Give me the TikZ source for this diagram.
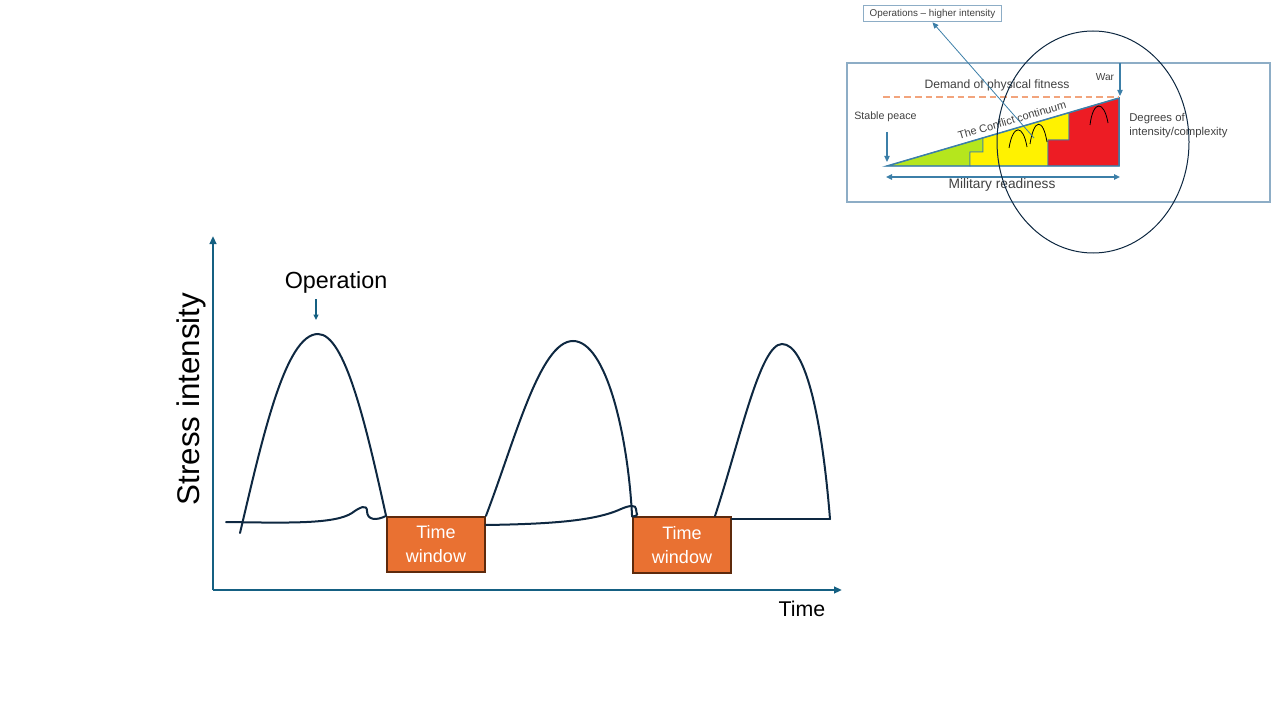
\documentclass[tikz,border=0pt]{standalone}
\usepackage{fontspec}
\setmainfont{Liberation Sans}
\usetikzlibrary{arrows.meta,calc}

\definecolor{axisblue}{HTML}{156082}
\definecolor{curvenavy}{HTML}{0E2841}
\definecolor{winorange}{HTML}{E97132}
\definecolor{winbrown}{HTML}{5E2A0C}
\definecolor{framegray}{HTML}{8DADC6}
\definecolor{dashorange}{HTML}{F2A47C}
\definecolor{zonegreen}{HTML}{B5E61D}
\definecolor{zoneyellow}{HTML}{FFF200}
\definecolor{zonered}{HTML}{ED1C24}
\definecolor{insetblue}{HTML}{3C7FA8}
\definecolor{insettextgray}{HTML}{404040}

\tikzset{
  axisline/.style={-{Triangle[length=6pt,width=5pt]}, axisblue, line width=1.6pt},
  stresscurve/.style={curvenavy, line width=1.5pt, line cap=round},
  window/.style={draw=winbrown, fill=winorange, line width=1.4pt, text=white,
    minimum width=73.5pt, minimum height=41.5pt, align=center,
    font=\fontsize{13.5}{18}\selectfont},
  insettext/.style={text=insettextgray, inner sep=0pt},
  insetarrow/.style={-{Triangle[length=4.5pt,width=4pt]}, insetblue, line width=0.8pt},
}

\begin{document}
\begin{tikzpicture}[x=0.75pt,y=-0.75pt]

   \useasboundingbox (0,0) rectangle (1280,720);

   % Axes
   \coordinate (origin) at (213,590);
   \draw[axisline] (origin) -- (213,236) coordinate (ytip);
   \draw[axisline] (origin) -- (842,590) coordinate (xtip);

   \node[rotate=90, font=\fontsize{23.5}{28}\selectfont] (ylabel) at (191,399) {Stress intensity};
   \node[anchor=base east, font=\fontsize{16}{19}\selectfont] (xlabel) at (830,616) {Time};

   % Operation label
   \node[anchor=base, font=\fontsize{17.5}{22}\selectfont] (operation) at (336,288) {Operation};
   \coordinate (optop) at (316,299);
   \coordinate (opend) at (316,320);
   \draw[-{Triangle[length=4pt,width=3.5pt]}, axisblue, line width=1.1pt] (optop) -- (opend);

   % Time windows
   \node[window] (win1) at (436,544.5) {Time\\window};
   \node[window] (win2) at (682,545) {Time\\window};

   % Peaks
   \draw[stresscurve] (240,533) .. controls (262,440) and (285,334) .. (318,334)
         .. controls (345,334) and (366,425) .. (win1.north west);
   \draw[stresscurve] (win1.north east) .. controls (515,440) and (540,341) .. (573,341)
         .. controls (606,341) and (628,435) .. (win2.north west);
   \draw[stresscurve] (715,516) .. controls (740,440) and (760,344) .. (782,344)
         .. controls (806,344) and (822,420) .. (830,519);

   % Baselines
   \draw[stresscurve] (226,522) .. controls (290,523) and (335,524) .. (352,513)
         .. controls (360,507) and (367,504) .. (367,511)
         .. controls (367,520) and (376,521) .. (win1.north west);
   \draw[stresscurve] (win1.north east |- 0,525) .. controls (550,524) and (595,521) .. (621,509)
         .. controls (630,505) and (636,505) .. (636,509)
         .. controls (636,514) and (640,516) .. (win2.north west);
   \draw[stresscurve] (win2.north east |- 0,519) -- (830,519);

   % ---------- Inset: conflict continuum ----------
   \draw[framegray, line width=1.1pt] (847,63) rectangle (1270,202);

   \coordinate (peace) at (887,166);
   \coordinate (war) at (1119,98);
   \coordinate (warbase) at (1119,166);
   \coordinate (greenstep) at ($(peace)!0.4138!(war)$);
   \coordinate (redstep) at ($(peace)!0.7845!(war)$);

   % Zones
   \filldraw[fill=zonegreen, draw=insetblue, line width=0.6pt]
        (peace) -- (greenstep) -- (greenstep |- 0,152) -- (970,152) -- (970,166) -- cycle;
   \filldraw[fill=zoneyellow, draw=insetblue, line width=0.6pt]
        (970,166) -- (970,152) -- (greenstep |- 0,152) -- (greenstep) -- (redstep)
        -- (redstep |- 0,140) -- (1048,140) -- (1048,166) -- cycle;
   \filldraw[fill=zonered, draw=insetblue, line width=0.6pt]
        (1048,166) -- (1048,140) -- (redstep |- 0,140) -- (redstep) -- (war) -- (warbase) -- cycle;
   \draw[insetblue, line width=1.1pt] (peace) -- (war) -- (warbase) -- cycle;

   % Small operation arches
   \draw[black, line width=0.6pt] (1009,148) .. controls (1013,124) and (1023,124) .. (1027,147);
   \draw[black, line width=0.6pt] (1030,144) .. controls (1034,118) and (1043,118) .. (1047,142);
   \draw[black, line width=0.6pt] (1090,125) .. controls (1093,100) and (1104,100) .. (1108,123);

   % Demand line
   \draw[dashorange, dashed, dash pattern=on 5pt off 3pt, line width=1.1pt] (883,97) -- (1119,97);
   \node[insettext, font=\fontsize{9.1}{11}\selectfont] (demand) at (997,85) {Demand of physical fitness};

   % Conflict continuum
   \node[insettext, rotate=16.3, font=\fontsize{8.2}{10}\selectfont] (continuum) at (1012,120) {The Conflict continuum};

   % End labels
   \node[insettext, anchor=west, font=\fontsize{8}{10}\selectfont] (peacelabel) at (854,117) {Stable peace};
   \draw[insetarrow] (887,132) -- (887,162);
   \node[insettext, font=\fontsize{7.6}{9}\selectfont] (warlabel) at (1105,77) {War};
   \draw[insetarrow] (1120,63) -- (1120,96);
   \node[insettext, anchor=north west, align=left, font=\fontsize{8.5}{10.5}\selectfont]
        (degrees) at (1129,113) {Degrees of\\intensity/complexity};

   % Military readiness
   \draw[{Triangle[length=4.5pt,width=4pt]}-{Triangle[length=4.5pt,width=4pt]}, insetblue, line width=1.1pt]
        (886,177) -- (1120,177);
   \node[insettext, font=\fontsize{10.3}{12}\selectfont] (readiness) at (1002,185) {Military readiness};

   % Focus ellipse
   \draw[curvenavy, line width=0.75pt] (1093,142) ellipse [x radius=96, y radius=111];

   % Higher intensity label and pointer
   \node[draw=framegray, line width=0.8pt, fill=white, insettext, inner xsep=3pt,
         minimum width=104pt, minimum height=12.5pt, font=\fontsize{7.4}{9}\selectfont]
        (opslabel) at (932.5,13.5) {Operations -- higher intensity};
   \coordinate (opsfoot) at (1034,138);
   \draw[insetarrow, line width=0.6pt] (opsfoot) -- (opslabel.south);

\end{tikzpicture}
\end{document}
